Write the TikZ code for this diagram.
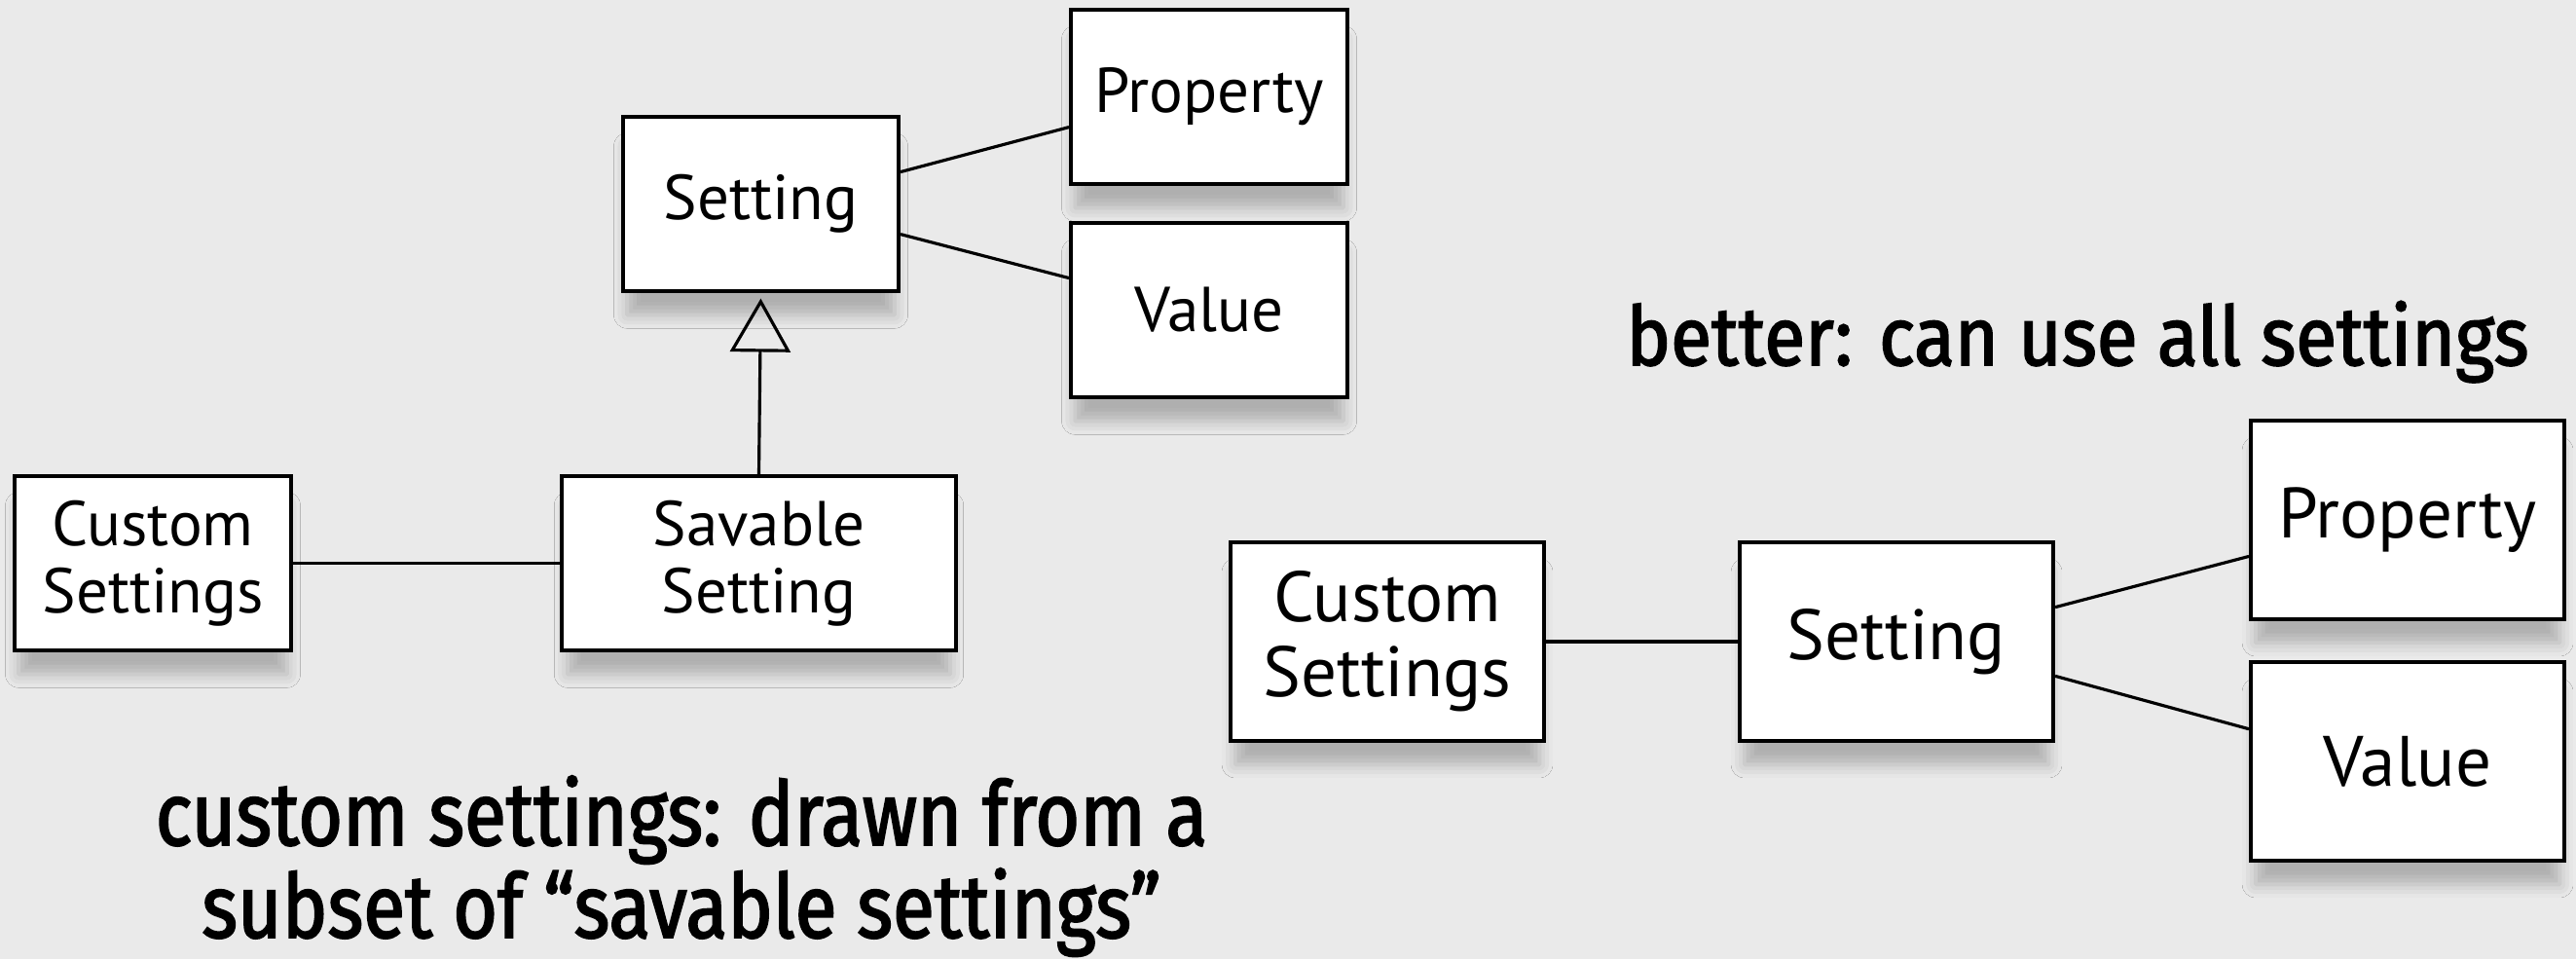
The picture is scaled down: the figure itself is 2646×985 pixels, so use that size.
\documentclass[tikz,border=0pt]{standalone}
\usepackage{fontspec}
\newfontfamily\boxfont{PT Sans}
\newfontfamily\titlefont[FakeStretch=0.91, FakeBold=2]{Fira Sans}
\newfontfamily\notefont[FakeStretch=0.86, FakeBold=2]{Fira Sans}
\usetikzlibrary{arrows.meta,shadows.blur,calc}
\definecolor{bgc}{RGB}{234,234,234}
\tikzset{
  cls/.style={draw=black, line width=1.1pt, fill=white, rectangle, inner sep=0pt, align=center,
    blur shadow={shadow xshift=0pt, shadow yshift=-8pt, shadow scale=0.97, shadow blur radius=4pt, shadow opacity=25}},
  lbox/.style={cls, font=\boxfont\fontsize{18.5}{19.5}\selectfont},
  rbox/.style={cls, font=\boxfont\fontsize{20.8}{22}\selectfont},
  conn/.style={line width=0.9pt, draw=black},
  ttl/.style={anchor=base, inner sep=0pt}
}
\begin{document}
\begin{tikzpicture}[x=0.01cm, y=-0.01cm]
\fill[bgc] (0,0) rectangle (2646,985);
\useasboundingbox (0,0) rectangle (2646,985);
% left diagram
\node[lbox, minimum width=2.84cm, minimum height=1.79cm] (Lprop) at (1242,99.5) {Property};
\node[lbox, minimum width=2.83cm, minimum height=1.79cm] (Lset) at (781.5,209.5) {Setting};
\node[lbox, minimum width=2.84cm, minimum height=1.79cm] (Lval) at (1242,318.5) {Value};
\node[lbox, minimum width=2.84cm, minimum height=1.79cm] (Lcust) at (157,578.5) {Custom\\Settings};
\node[lbox, minimum width=4.05cm, minimum height=1.79cm] (Lsav) at (779.5,578.5) {Savable\\Setting};
\draw[conn] ($(Lset.north east)!0.32!(Lset.south east)$) -- ($(Lprop.north west)!0.67!(Lprop.south west)$);
\draw[conn] ($(Lset.north east)!0.67!(Lset.south east)$) -- ($(Lval.north west)!0.32!(Lval.south west)$);
\draw[conn] (Lcust.east) -- (Lsav.west);
\draw[conn, -{Triangle[open, length=15.6pt, width=17.6pt, line width=0.9pt]}, shorten >=1.6pt] (Lsav.north) -- (Lset.south);
% right diagram
\node[rbox, minimum width=3.22cm, minimum height=2.04cm] (Rcust) at (1425,659) {Custom\\Settings};
\node[rbox, minimum width=3.22cm, minimum height=2.04cm] (Rset) at (1948,659) {Setting};
\node[rbox, minimum width=3.22cm, minimum height=2.04cm] (Rprop) at (2473,534) {Property};
\node[rbox, minimum width=3.22cm, minimum height=2.04cm] (Rval) at (2473,782) {Value};
\draw[conn] (Rcust.east) -- (Rset.west);
\draw[conn] ($(Rset.north east)!0.33!(Rset.south east)$) -- ($(Rprop.north west)!0.68!(Rprop.south west)$);
\draw[conn] ($(Rset.north east)!0.67!(Rset.south east)$) -- ($(Rval.north west)!0.34!(Rval.south west)$);
% titles
\node[ttl, font=\titlefont\fontsize{24}{28}\selectfont] (t1) at (2134,375) {better: can use all settings};
\node[ttl, font=\notefont\fontsize{26}{30}\selectfont] (t2) at (700,868) {custom settings: drawn from a};
\node[ttl, font=\notefont\fontsize{26}{30}\selectfont] (t3) at (700,963) {subset of “savable settings”};
\end{tikzpicture}
\end{document}
